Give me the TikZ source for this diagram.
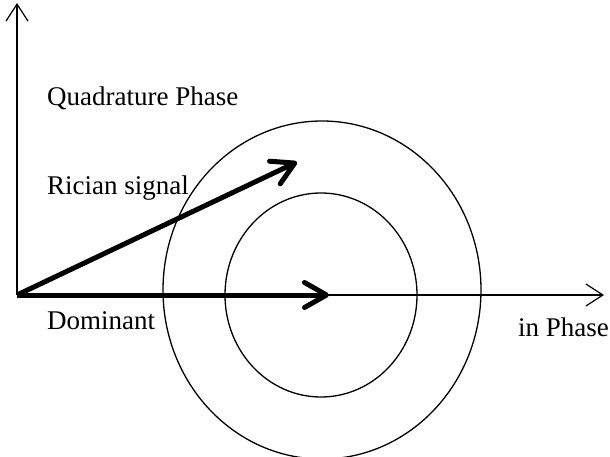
\documentclass[tikz,border=0pt]{standalone}
\usepackage{fontspec}
\setmainfont{Liberation Serif}
\usetikzlibrary{arrows.meta}
\tikzset{
  axis/.style={-{Straight Barb[length=17pt, width=22pt, line width=1.2pt]}, line width=1.2pt},
  vec/.style={-{Straight Barb[length=22pt, width=25pt, line width=5pt, round]}, line width=5pt},
  ring/.style={draw, line width=1.3pt},
  lbl/.style={anchor=west, inner sep=0pt, font=\fontsize{27}{32}\selectfont},
}
\begin{document}
\begin{tikzpicture}[x=1pt, y=-1pt]
  \useasboundingbox (0,0) rectangle (610,457);
  \coordinate (orig) at (17,295);
  \coordinate (ytip) at (17,3);
  \coordinate (xtip) at (604,295);
  \coordinate (dom) at (329,295);
  \coordinate (ric) at (297,162);
  % circles round the dominant end
  \draw[ring] (322,290) ellipse [x radius=159, y radius=169];
  \draw[ring] (321,295) ellipse [x radius=96, y radius=102];
  % axes
  \draw[axis] (orig) -- (ytip);
  \draw[axis] (orig) -- (xtip);
  % vectors
  \draw[vec] (orig) -- (dom);
  \draw[vec] (orig) -- (ric);
  \node[lbl] (qlab) at (47,98) {Quadrature Phase};
  \node[lbl] (rlab) at (47,188) {Rician signal};
  \node[lbl] (dlab) at (47,321) {Dominant};
  \node[lbl] (ilab) at (518,327) {in Phase};
\end{tikzpicture}
\end{document}
